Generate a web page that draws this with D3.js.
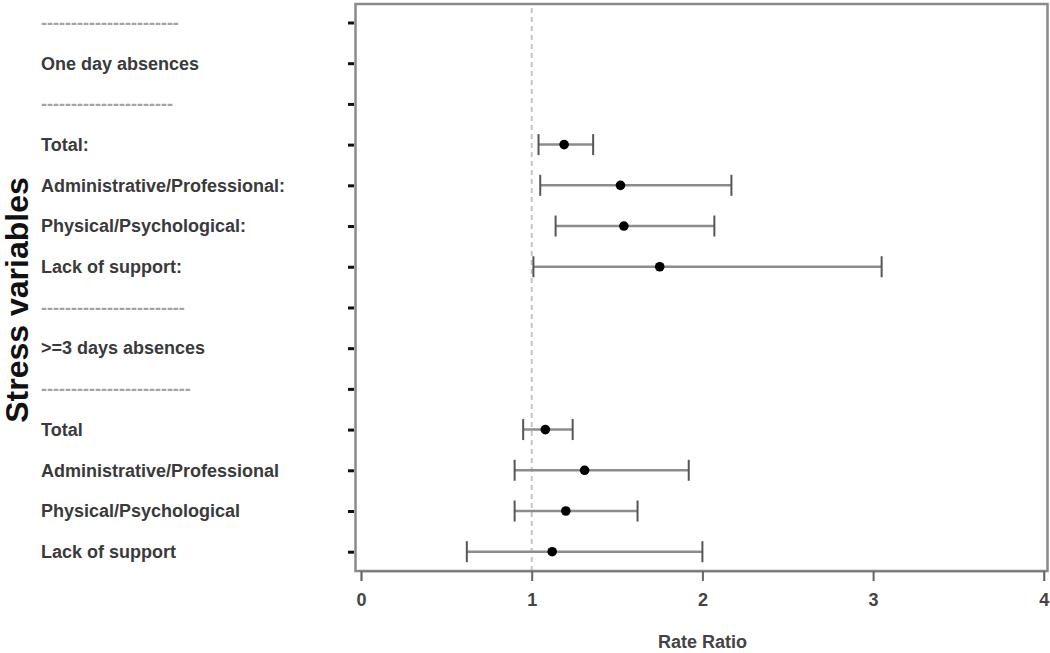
<!DOCTYPE html>
<html>
<head>
<meta charset="utf-8">
<script src="https://cdn.jsdelivr.net/npm/d3@7"></script>
<style>
  html, body { margin: 0; padding: 0; background: #fff; }
  svg { display: block; font-family: "Liberation Sans", Arial, sans-serif; }
</style>
</head>
<body>
<svg id="chart" width="1050" height="653"></svg>
<script>
// ---- data ----
const rowLabels = [
  "-----------------------",
  "One day absences",
  "----------------------",
  "Total:",
  "Administrative/Professional:",
  "Physical/Psychological:",
  "Lack of support:",
  "------------------------",
  ">=3 days absences",
  "-------------------------",
  "Total",
  "Administrative/Professional",
  "Physical/Psychological",
  "Lack of support"
];
const isSeparator = [true, false, true, false, false, false, false, true, false, true, false, false, false, false];
const estimate = [null, null, null, 1.19, 1.52, 1.54, 1.75, null, null, null, 1.08, 1.31, 1.20, 1.12];
const lower    = [null, null, null, 1.04, 1.05, 1.14, 1.01, null, null, null, 0.95, 0.90, 0.90, 0.62];
const upper    = [null, null, null, 1.36, 2.17, 2.07, 3.05, null, null, null, 1.24, 1.92, 1.62, 2.00];
const xTicks = [0, 1, 2, 3, 4];
const refValue = 1;
const xTitle = "Rate Ratio";
const yTitle = "Stress variables";

// ---- layout ----
const svg = d3.select("#chart");
const frame = { left: 355.5, right: 1047.5, top: 4, bottom: 571 };

const x = d3.scaleLinear().domain([0, 4]).range([361, 1043.8]);
const y = d3.scalePoint().domain(d3.range(rowLabels.length)).range([22.5, 551.7]);

// reference dashed line
svg.append("line")
  .attr("x1", x(refValue)).attr("x2", x(refValue))
  .attr("y1", frame.top + 4).attr("y2", frame.bottom)
  .attr("stroke", "#c4c4c4").attr("stroke-width", 2)
  .attr("stroke-dasharray", "5,4");

// frame
svg.append("rect")
  .attr("x", frame.left).attr("y", frame.top)
  .attr("width", frame.right - frame.left).attr("height", frame.bottom - frame.top)
  .attr("fill", "none").attr("stroke", "#8a8a8a").attr("stroke-width", 2.5);

// x axis
const xAxis = d3.axisBottom(x).tickValues(xTicks).tickFormat(d3.format("d")).tickSize(10).tickPadding(12);
const gx = svg.append("g").attr("transform", `translate(0,${frame.bottom})`).call(xAxis);
gx.select(".domain").attr("stroke", "#777").attr("stroke-width", 1.5);
gx.selectAll(".tick line").attr("stroke", "#666").attr("stroke-width", 2);
gx.selectAll(".tick text")
  .attr("fill", "#444").attr("font-size", 18).attr("font-weight", "bold")
  .attr("font-family", "'Liberation Sans', Arial, sans-serif");

// y ticks (short marks left of frame)
const yAxis = d3.axisLeft(y).tickSize(6).tickFormat("");
const gy = svg.append("g").attr("transform", `translate(${frame.left - 1.5},0)`).call(yAxis);
gy.select(".domain").remove();
gy.selectAll(".tick line").attr("stroke", "#111").attr("stroke-width", 3);

// row labels
svg.append("g").selectAll("text")
  .data(rowLabels.map((t, i) => ({ t, i })))
  .join("text")
  .attr("x", 41)
  .attr("y", d => y(d.i))
  .attr("dy", "0.35em")
  .attr("font-size", 18)
  .attr("font-weight", "bold")
  .attr("fill", d => isSeparator[d.i] ? "#a3a3a3" : "#3a3a3a")
  .text(d => d.t);

// error bars
const rows = d3.range(rowLabels.length).filter(i => estimate[i] !== null);
const bars = svg.append("g");
bars.selectAll("line.ci")
  .data(rows).join("line").attr("class", "ci")
  .attr("x1", i => x(lower[i])).attr("x2", i => x(upper[i]))
  .attr("y1", i => y(i)).attr("y2", i => y(i))
  .attr("stroke", "#8c8c8c").attr("stroke-width", 2.5);
bars.selectAll("line.capl")
  .data(rows).join("line").attr("class", "capl")
  .attr("x1", i => x(lower[i])).attr("x2", i => x(lower[i]))
  .attr("y1", i => y(i) - 10.5).attr("y2", i => y(i) + 10.5)
  .attr("stroke", "#555").attr("stroke-width", 2);
bars.selectAll("line.capu")
  .data(rows).join("line").attr("class", "capu")
  .attr("x1", i => x(upper[i])).attr("x2", i => x(upper[i]))
  .attr("y1", i => y(i) - 10.5).attr("y2", i => y(i) + 10.5)
  .attr("stroke", "#555").attr("stroke-width", 2);
bars.selectAll("circle")
  .data(rows).join("circle")
  .attr("cx", i => x(estimate[i])).attr("cy", i => y(i))
  .attr("r", 4.8).attr("fill", "#000");

// axis titles
svg.append("text")
  .attr("x", (x(0) + x(4)) / 2).attr("y", 641.5).attr("dy", "0.35em")
  .attr("text-anchor", "middle")
  .attr("font-size", 18).attr("font-weight", "bold").attr("fill", "#444")
  .text(xTitle);

svg.append("text")
  .attr("transform", "translate(28,300) rotate(-90)")
  .attr("text-anchor", "middle")
  .attr("font-size", 32).attr("font-weight", "bold").attr("fill", "#111")
  .text(yTitle);
</script>
</body>
</html>
